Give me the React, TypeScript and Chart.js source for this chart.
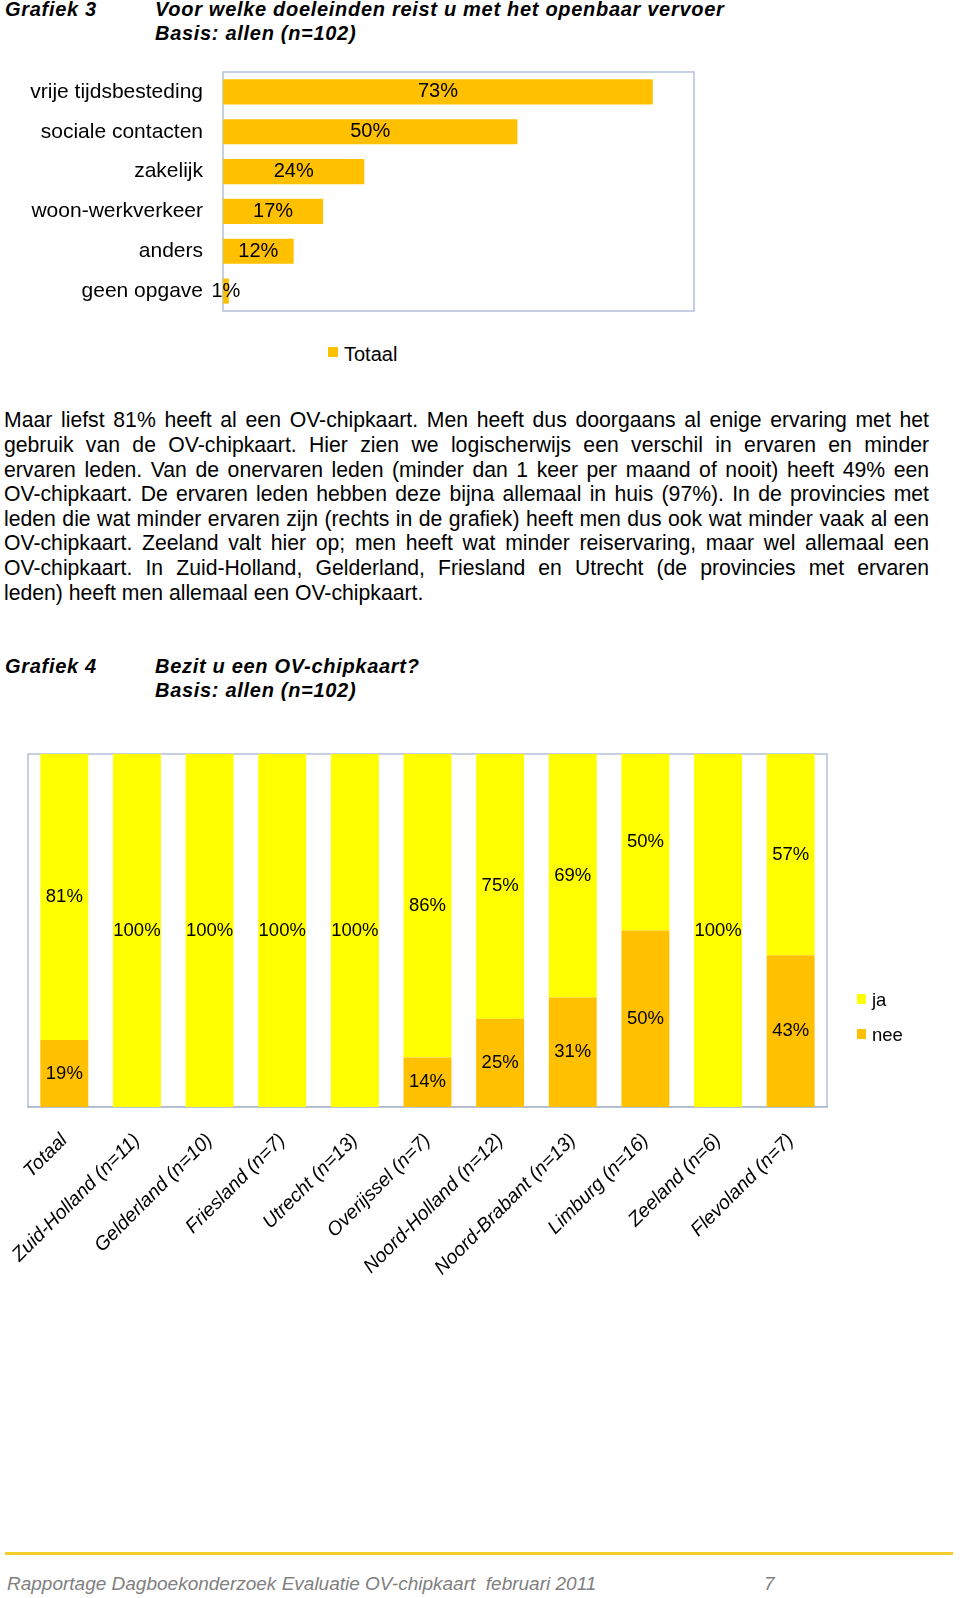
import React, { useEffect, useRef } from 'react';
import { Chart, registerables } from 'chart.js';

Chart.register(...registerables);

// ---------- data ----------
const purposeLabels = [
  'vrije tijdsbesteding',
  'sociale contacten',
  'zakelijk',
  'woon-werkverkeer',
  'anders',
  'geen opgave',
];
const purposeValues = [73, 50, 24, 17, 12, 1];
const purposeSeriesName = 'Totaal';

const provinceLabels = [
  'Totaal',
  'Zuid-Holland (n=11)',
  'Gelderland (n=10)',
  'Friesland (n=7)',
  'Utrecht (n=13)',
  'Overijssel (n=7)',
  'Noord-Holland (n=12)',
  'Noord-Brabant (n=13)',
  'Limburg (n=16)',
  'Zeeland (n=6)',
  'Flevoland (n=7)',
];
const jaValues = [81, 100, 100, 100, 100, 86, 75, 69, 50, 100, 57];
const neeValues = [19, 0, 0, 0, 0, 14, 25, 31, 50, 0, 43];

const paragraphLines = [
  'Maar liefst 81% heeft al een OV-chipkaart. Men heeft dus doorgaans al enige ervaring met het',
  'gebruik van de OV-chipkaart. Hier zien we logischerwijs een verschil in ervaren en minder',
  'ervaren leden. Van de onervaren leden (minder dan 1 keer per maand of nooit) heeft 49% een',
  'OV-chipkaart. De ervaren leden hebben deze bijna allemaal in huis (97%). In de provincies met',
  'leden die wat minder ervaren zijn (rechts in de grafiek) heeft men dus ook wat minder vaak al een',
  'OV-chipkaart. Zeeland valt hier op; men heeft wat minder reiservaring, maar wel allemaal een',
  'OV-chipkaart. In Zuid-Holland, Gelderland, Friesland en Utrecht (de provincies met ervaren',
  'leden) heeft men allemaal een OV-chipkaart.',
];

// ---------- styles ----------
const FAMILY = '"Liberation Sans", Arial, Helvetica, sans-serif';
const GOLD = '#FFC000';
const YELLOW = '#FFFF00';
const FRAME = '#B3C1DA';

const framePlugin = (id: string, color: string) => ({
  id,
  beforeDatasetsDraw(chart: any) {
    const { ctx, chartArea: a } = chart;
    ctx.save();
    ctx.strokeStyle = color;
    ctx.lineWidth = 1.5;
    ctx.strokeRect(a.left, a.top, a.right - a.left, a.bottom - a.top);
    ctx.restore();
  },
});

const valueLabelPlugin = (id: string, font: string, horizontal: boolean) => ({
  id,
  afterDatasetsDraw(chart: any) {
    const ctx = chart.ctx;
    ctx.save();
    ctx.font = font;
    ctx.fillStyle = '#000';
    ctx.textAlign = 'center';
    ctx.textBaseline = 'middle';
    chart.data.datasets.forEach((ds: any, di: number) => {
      const meta = chart.getDatasetMeta(di);
      meta.data.forEach((el: any, i: number) => {
        const v = ds.data[i];
        if (!v) return;
        const p = el.getProps(['x', 'y', 'base'], true);
        const x = horizontal ? (p.x + p.base) / 2 : p.x;
        const y = horizontal ? p.y : (p.y + p.base) / 2;
        ctx.fillText(v + '%', x, y);
      });
    });
    ctx.restore();
  },
});

function PurposeChart() {
  const ref = useRef<HTMLCanvasElement>(null);
  useEffect(() => {
    const chart = new Chart(ref.current as HTMLCanvasElement, {
      type: 'bar',
      data: {
        labels: purposeLabels,
        datasets: [
          {
            label: purposeSeriesName,
            data: purposeValues,
            backgroundColor: GOLD,
            barPercentage: 0.63,
            categoryPercentage: 1,
          },
        ],
      },
      options: {
        indexAxis: 'y',
        responsive: false,
        animation: false,
        layout: { padding: { top: 12, right: 26, bottom: 19, left: 0 } },
        plugins: { legend: { display: false }, tooltip: { enabled: false } },
        scales: {
          x: { display: false, min: 0, max: 80 },
          y: {
            grid: { display: false, drawTicks: false },
            border: { display: false },
            ticks: { padding: 20, color: '#000', font: { family: FAMILY, size: 21 } },
            afterFit(scale: any) {
              scale.width = 223;
              scale.paddingTop = 0;
              scale.paddingBottom = 0;
            },
          },
        },
      } as any,
      plugins: [framePlugin('frame3', FRAME), valueLabelPlugin('labels3', `20px ${FAMILY}`, true)],
    });
    return () => chart.destroy();
  }, []);
  return (
    <canvas
      ref={ref}
      width={720}
      height={270}
      style={{ position: 'absolute', left: 0, top: 60, width: 720, height: 270 }}
    />
  );
}

function OwnershipChart() {
  const ref = useRef<HTMLCanvasElement>(null);
  useEffect(() => {
    const chart = new Chart(ref.current as HTMLCanvasElement, {
      type: 'bar',
      data: {
        labels: provinceLabels,
        datasets: [
          {
            label: 'nee',
            data: neeValues,
            backgroundColor: GOLD,
            barPercentage: 0.66,
            categoryPercentage: 1,
          },
          {
            label: 'ja',
            data: jaValues,
            backgroundColor: YELLOW,
            barPercentage: 0.66,
            categoryPercentage: 1,
          },
        ],
      },
      options: {
        responsive: false,
        animation: false,
        layout: { padding: { top: 14, right: 133, bottom: 0, left: 28 } },
        plugins: { legend: { display: false }, tooltip: { enabled: false } },
        scales: {
          x: {
            stacked: true,
            grid: { display: false, drawTicks: false },
            border: { display: true, color: '#A3A3A3', width: 1.5 },
            ticks: {
              autoSkip: false,
              minRotation: 45,
              maxRotation: 45,
              padding: 22,
              color: '#000',
              font: { family: FAMILY, size: 19.5, style: 'italic' },
            },
            afterFit(scale: any) {
              scale.height = 173;
            },
          },
          y: { display: false, stacked: true, min: 0, max: 100 },
        },
      } as any,
      plugins: [framePlugin('frame4', FRAME), valueLabelPlugin('labels4', `18.5px ${FAMILY}`, false)],
    });
    return () => chart.destroy();
  }, []);
  return (
    <canvas
      ref={ref}
      width={960}
      height={540}
      style={{ position: 'absolute', left: 0, top: 740, width: 960, height: 540 }}
    />
  );
}

const headStyle: React.CSSProperties = {
  position: 'absolute',
  fontFamily: FAMILY,
  fontWeight: 'bold',
  fontStyle: 'italic',
  fontSize: 20,
  lineHeight: '24px',
  letterSpacing: '0.7px',
  whiteSpace: 'nowrap',
  color: '#000',
};

export default function App() {
  return (
    <div
      style={{
        position: 'absolute',
        left: 0,
        top: 0,
        width: 960,
        height: 1598,
        background: '#fff',
        fontFamily: FAMILY,
        overflow: 'hidden',
      }}
    >
      <div style={{ ...headStyle, left: 5, top: -3 }}>Grafiek 3</div>
      <div style={{ ...headStyle, left: 155, top: -3 }}>
        Voor welke doeleinden reist u met het openbaar vervoer
        <br />
        Basis: allen (n=102)
      </div>

      <PurposeChart />

      <div style={{ position: 'absolute', left: 328, top: 347, width: 10, height: 10, background: GOLD }} />
      <div style={{ position: 'absolute', left: 344, top: 344, fontSize: 20, lineHeight: '20px', color: '#000' }}>
        Totaal
      </div>

      <div
        style={{
          position: 'absolute',
          left: 4,
          top: 408.4,
          width: 925,
          fontSize: 21.2,
          lineHeight: '24.6px',
          color: '#000',
        }}
      >
        {paragraphLines.map((line, i) => (
          <div
            key={i}
            style={{
              textAlign: 'justify',
              textAlignLast: i < paragraphLines.length - 1 ? 'justify' : 'left',
            }}
          >
            {line}
          </div>
        ))}
      </div>

      <div style={{ ...headStyle, left: 5, top: 654 }}>Grafiek 4</div>
      <div style={{ ...headStyle, left: 155, top: 654 }}>
        Bezit u een OV-chipkaart?
        <br />
        Basis: allen (n=102)
      </div>

      <OwnershipChart />

      <div style={{ position: 'absolute', left: 857, top: 994, width: 9, height: 10, background: YELLOW }} />
      <div style={{ position: 'absolute', left: 872, top: 990, fontSize: 18.5, lineHeight: '20px', color: '#000' }}>
        ja
      </div>
      <div style={{ position: 'absolute', left: 857, top: 1029, width: 9, height: 10, background: GOLD }} />
      <div style={{ position: 'absolute', left: 872, top: 1025, fontSize: 18.5, lineHeight: '20px', color: '#000' }}>
        nee
      </div>

      <div style={{ position: 'absolute', left: 5, top: 1552, width: 948, height: 3, background: '#F4CF2C' }} />
      <div
        style={{
          position: 'absolute',
          left: 7,
          top: 1574,
          fontSize: 19,
          lineHeight: '19px',
          fontStyle: 'italic',
          color: '#808080',
          whiteSpace: 'pre',
        }}
      >
        {'Rapportage Dagboekonderzoek Evaluatie OV-chipkaart  februari 2011'}
      </div>
      <div
        style={{
          position: 'absolute',
          left: 764,
          top: 1574,
          fontSize: 19,
          lineHeight: '19px',
          fontStyle: 'italic',
          color: '#808080',
        }}
      >
        7
      </div>
    </div>
  );
}
